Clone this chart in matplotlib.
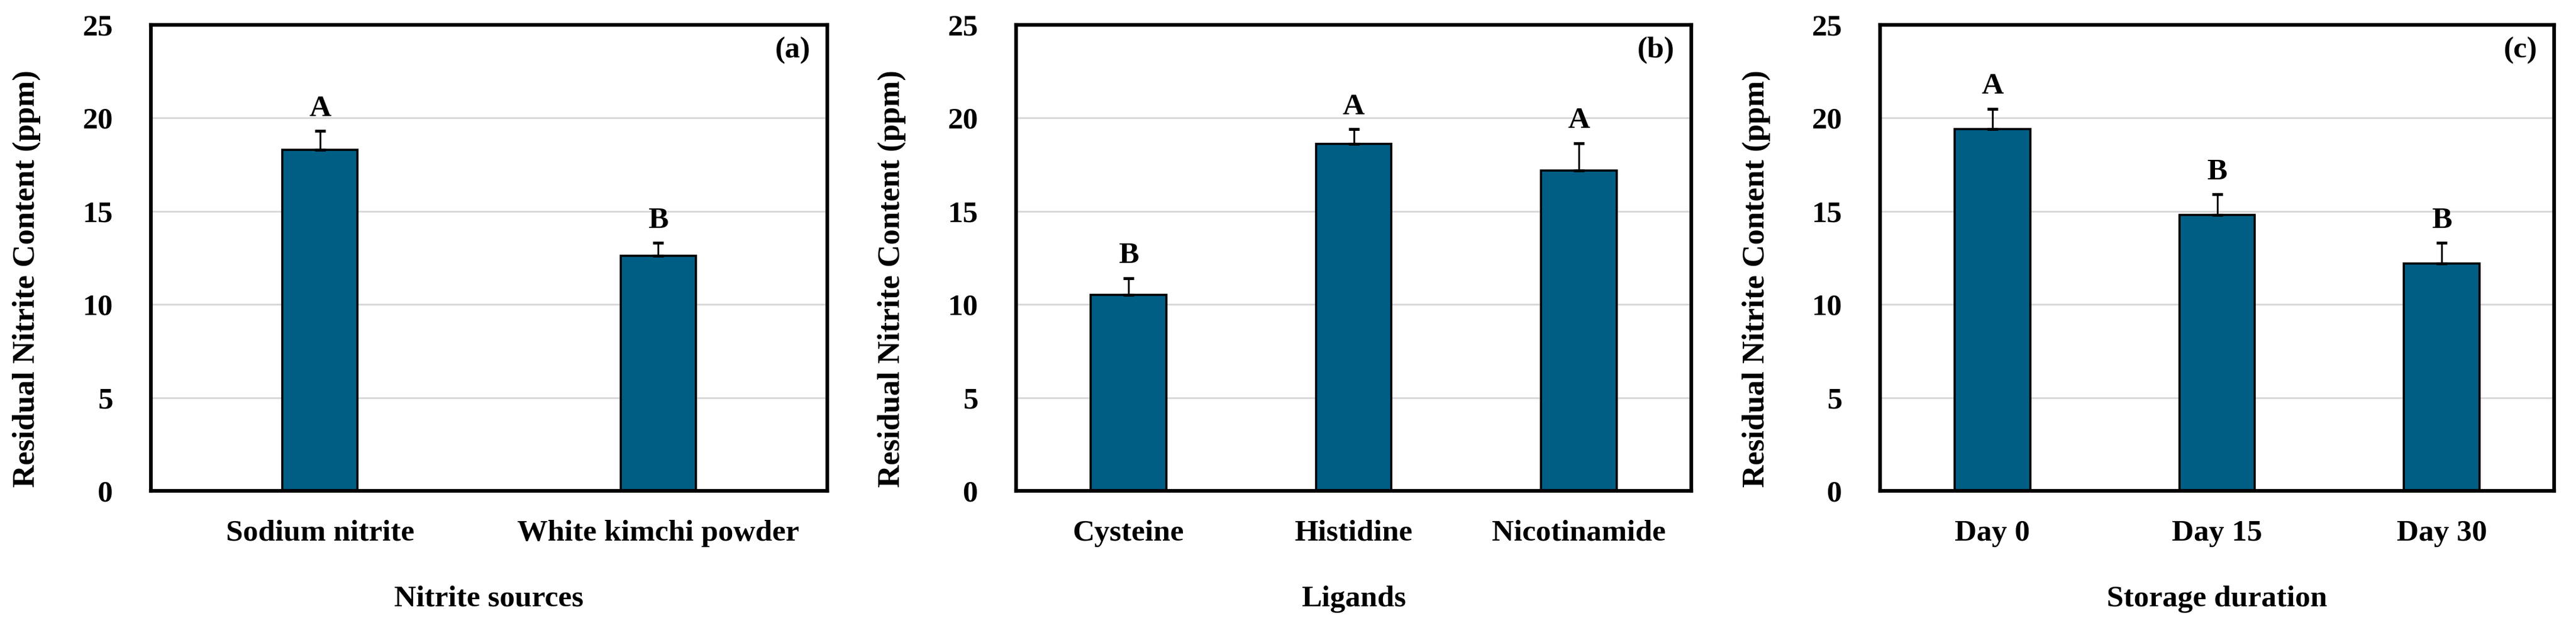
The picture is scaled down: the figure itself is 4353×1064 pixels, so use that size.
import matplotlib
matplotlib.use("Agg")
import matplotlib.pyplot as plt
import numpy as np

plt.rcParams['font.family'] = ['Liberation Serif', 'DejaVu Serif']
plt.rcParams['font.weight'] = 'bold'

# ---- data ----
cats_a = ["Sodium nitrite", "White kimchi powder"]
vals_a = [18.3, 12.6]
errs_a = [1.0, 0.7]
lets_a = ["A", "B"]

cats_b = ["Cysteine", "Histidine", "Nicotinamide"]
vals_b = [10.5, 18.6, 17.2]
errs_b = [0.9, 0.8, 1.45]
lets_b = ["B", "A", "A"]

cats_c = ["Day 0", "Day 15", "Day 30"]
vals_c = [19.4, 14.8, 12.2]
errs_c = [1.1, 1.1, 1.1]
lets_c = ["A", "B", "B"]

xlabels = ["Nitrite sources", "Ligands", "Storage duration"]
panel_tags = ["(a)", "(b)", "(c)"]
ylabel = "Residual Nitrite Content (ppm)"
yticks = [0, 5, 10, 15, 20, 25]

bar_color = "#005E85"
FS = 37
FS_Y = 38

W, H = 4353, 1064
fig = plt.figure(figsize=(W / 100, H / 100), dpi=100)

ax_left_px = [255, 1717, 3177]
ax_w_px = [1143, 1141, 1139]
top_px, bot_px = 42, 829

panels = [
    (cats_a, vals_a, errs_a, lets_a, 0.222),
    (cats_b, vals_b, errs_b, lets_b, 0.336),
    (cats_c, vals_c, errs_c, lets_c, 0.336),
]

for i, (cats, vals, errs, lets, bw) in enumerate(panels):
    ax = fig.add_axes([ax_left_px[i] / W, 1 - bot_px / H,
                       ax_w_px[i] / W, (bot_px - top_px) / H])
    x = np.arange(len(cats))
    ax.set_axisbelow(True)
    ax.yaxis.grid(True, color="#d9d9d9", linewidth=2.2)
    ax.bar(x, vals, width=bw, color=bar_color, edgecolor="black",
           linewidth=2.6, zorder=2)
    ax.errorbar(x, vals, yerr=[np.zeros(len(vals)), errs], fmt='none',
                ecolor='black', elinewidth=2.2, capsize=6.5, capthick=3.5,
                zorder=3)
    for xi, v, e, l in zip(x, vals, errs, lets):
        ax.text(xi, v + e + 1.2, l, ha='center', va='center',
                fontsize=FS, fontweight='bold')
    ax.set_xlim(-0.5, len(cats) - 0.5)
    ax.set_ylim(0, 25)
    ax.set_yticks(yticks)
    ax.set_xticks(x)
    ax.set_xticklabels(cats)
    ax.tick_params(axis='both', length=0, labelsize=FS)
    ax.tick_params(axis='x', pad=35)
    ax.tick_params(axis='y', pad=46)
    for lab in ax.get_xticklabels() + ax.get_yticklabels():
        lab.set_fontweight('bold')
    for s in ax.spines.values():
        s.set_linewidth(4.5)
        s.set_color('black')
    ax.set_xlabel(xlabels[i], fontsize=FS, fontweight='bold')
    ax.xaxis.set_label_coords(0.5, (bot_px - 1012) / (bot_px - top_px))
    ax.xaxis.label.set_va('center')
    ax.set_ylabel(ylabel, fontsize=FS_Y, fontweight='bold')
    ax.yaxis.set_label_coords(-0.184, (bot_px - 471) / (bot_px - top_px))
    ax.yaxis.label.set_va('center')
    ax.text(0.9755, 0.945, panel_tags[i], transform=ax.transAxes,
            ha='right', va='center', fontsize=FS, fontweight='bold')

fig.savefig("out.png", dpi=100, facecolor='white')
